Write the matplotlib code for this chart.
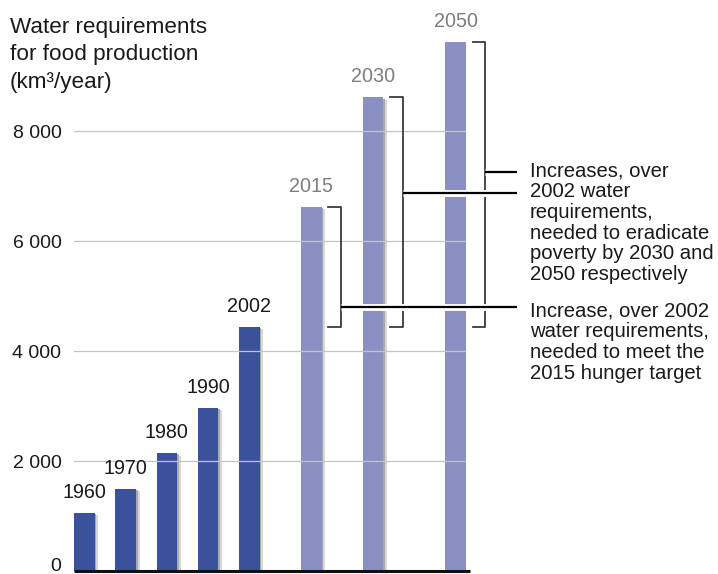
import matplotlib
matplotlib.use("Agg")
import matplotlib.pyplot as plt
import matplotlib.patheffects as pe
from matplotlib.transforms import ScaledTranslation

plt.rcParams["font.family"] = ["Liberation Sans", "DejaVu Sans"]

# data
years = ["1960", "1970", "1980", "1990", "2002", "2015", "2030", "2050"]
water = [1050, 1490, 2140, 2960, 4440, 6620, 8610, 9610]
projected = [False, False, False, False, False, True, True, True]
ticks = [0, 2000, 4000, 6000, 8000]
tick_labels = ["0", "2 000", "4 000", "6 000", "8 000"]

# slot positions: historical bars evenly, projections spaced wider
xpos = [0, 1, 2, 3, 4, 5.5, 7, 9]
bar_w = 0.5

dark_blue = "#39529b"
light_blue = "#8a90c2"

fig = plt.figure(figsize=(7.18, 5.74), dpi=100)
ax = fig.add_axes([74 / 718, 3 / 574, 392 / 718, 550 / 574])

colors = [light_blue if p else dark_blue for p in projected]

# soft shadow on the right of each bar
ax.bar([x + 0.09 for x in xpos], [v - 40 for v in water], width=bar_w,
       color="#d8d8d8", zorder=1)
ax.bar([x + 0.04 for x in xpos], [v - 20 for v in water], width=bar_w,
       color="#a9a9a9", zorder=1.5)
ax.bar(xpos, water, width=bar_w, color=colors, zorder=2)

for x, v, y, p in zip(xpos, water, years, projected):
    ax.annotate(y, xy=(x, v), xytext=(0, 10.8), textcoords="offset points",
                ha="center", va="baseline", fontsize=14.2,
                color="#7d7d7d" if p else "#1a1a1a", annotation_clip=False)

ax.set_xlim(-0.25, 9.25)
ax.set_ylim(0, 10000)
for t in ticks[1:]:
    ax.axhline(t, color="#c4c4c4", lw=0.9, zorder=2.5)
ax.plot([-0.25, 9.35], [0, 0], color="#111111", lw=2.2, zorder=4,
        clip_on=False, solid_capstyle="butt")

ax.set_yticks(ticks)
ax.set_yticklabels(tick_labels, fontsize=14, color="#1a1a1a")
ax.tick_params(axis="y", length=0, pad=9)
# lift the "0" so it is not clipped by the bottom edge
zero = ax.get_yticklabels()[0]
zero.set_transform(zero.get_transform() + ScaledTranslation(0, 4.5 / 72, fig.dpi_scale_trans))
ax.set_xticks([])
for s in ax.spines.values():
    s.set_visible(False)

# brackets for the three projections, from the 2002 level up to the bar top
base = water[4]
bracket_col = "#3a3a3a"
for x, v in zip(xpos[5:], water[5:]):
    right = x + bar_w / 2
    xt, xv = right + 0.16, right + 0.47
    ax.plot([xt, xv, xv, xt], [v, v, base, base], color=bracket_col,
            lw=1.3, zorder=3, clip_on=False)

# connector lines to the notes on the right
x_end = 10.48
stroke = [pe.withStroke(linewidth=5, foreground="white")]
links = [(xpos[7] + 0.72, 7260), (xpos[6] + 0.72, 6880), (xpos[5] + 0.72, 4805)]
for xs, yv in links:
    ax.plot([xs, x_end], [yv, yv], color="black", lw=1.6, zorder=5,
            clip_on=False, solid_capstyle="butt", path_effects=stroke)

ax.text(10.80, 7442, "Increases, over\n2002 water\nrequirements,\nneeded to eradicate\n"
        "poverty by 2030 and\n2050 respectively", fontsize=14.6, color="#1a1a1a",
        ha="left", va="top", linespacing=1.11)
ax.text(10.80, 4896, "Increase, over 2002\nwater requirements,\nneeded to meet the\n"
        "2015 hunger target", fontsize=14.6, color="#1a1a1a",
        ha="left", va="top", linespacing=1.11)

fig.text(10 / 718, 1 - 16.7 / 574,
         "Water requirements\nfor food production\n(km\u00b3/year)",
         fontsize=16.2, color="#1a1a1a", ha="left", va="top", linespacing=1.4)

fig.savefig("out.png", dpi=100)
